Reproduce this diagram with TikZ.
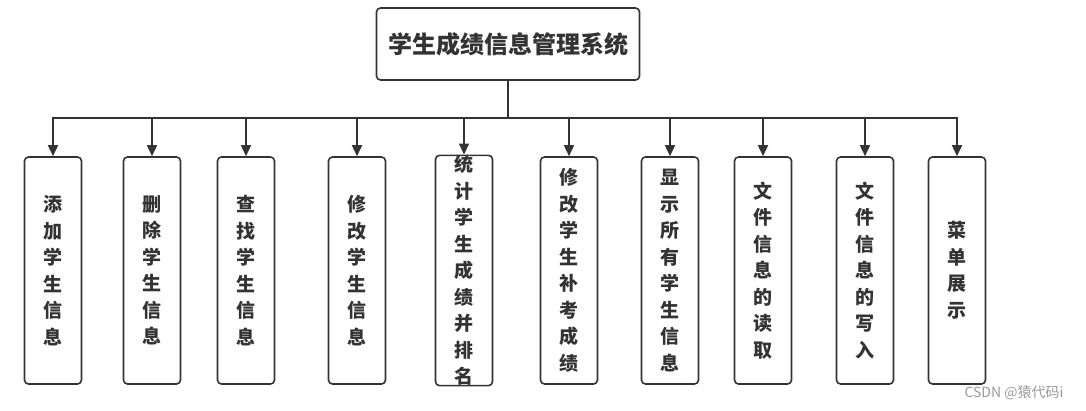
\documentclass[tikz,border=0pt]{standalone}
\usepackage{fontspec}
\setmainfont{Noto Sans CJK SC}
\usetikzlibrary{arrows.meta}
\definecolor{linegray}{HTML}{333333}
\tikzset{
  sysbox/.style={draw=linegray, line width=1.6pt, rounded corners=4pt,
    minimum width=263pt, minimum height=72pt, text=linegray,
    font=\fontsize{24}{28}\selectfont\bfseries},
  funcbox/.style={draw=linegray, line width=1.6pt, rounded corners=4pt,
    minimum width=57pt, minimum height=227pt, inner sep=0pt, align=center,
    text=linegray, font=\fontsize{19}{26.5}\selectfont\bfseries},
  conn/.style={draw=linegray, line width=1.6pt, -{Triangle[length=11pt,width=10pt]}}
}

\begin{document}
\begin{tikzpicture}[x=1pt,y=1pt]
  \useasboundingbox (0,0) rectangle (1086,-410);
  % root
  \node[sysbox] (sys) at (508,-44) {学生成绩信息管理系统};
  \coordinate (bus) at (508,-118);
  % functions
  \node[funcbox] (f1) at (53,-270.5) {添\\加\\学\\生\\信\\息};
  \node[funcbox] (f2) at (152,-270.5) {删\\除\\学\\生\\信\\息};
  \node[funcbox] (f3) at (246,-270.5) {查\\找\\学\\生\\信\\息};
  \node[funcbox] (f4) at (357,-270.5) {修\\改\\学\\生\\信\\息};
  \node[funcbox] (f5) at (464,-270.5) {统\\计\\学\\生\\成\\绩\\并\\排\\名};
  \node[funcbox] (f6) at (569,-270.5) {修\\改\\学\\生\\补\\考\\成\\绩};
  \node[funcbox] (f7) at (670,-270.5) {显\\示\\所\\有\\学\\生\\信\\息};
  \node[funcbox] (f8) at (763,-270.5) {文\\件\\信\\息\\的\\读\\取};
  \node[funcbox] (f9) at (865,-270.5) {文\\件\\信\\息\\的\\写\\入};
  \node[funcbox] (f10) at (957,-270.5) {菜\\单\\展\\示};
  \draw[draw=linegray, line width=1.6pt] (sys.south) -- (bus);
  \foreach \i in {1,...,10}
    \draw[conn] (bus) -| (f\i.north);
  \node[text=gray!80, font=\fontsize{14}{16}\selectfont] (mark) at (1014,-393) {CSDN @猿代码i};
\end{tikzpicture}
\end{document}
